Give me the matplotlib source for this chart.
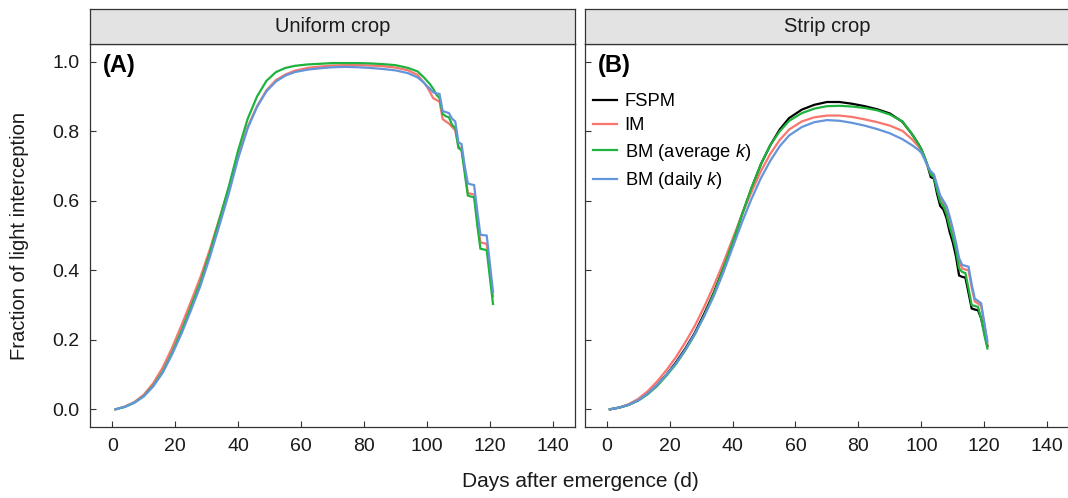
import matplotlib
matplotlib.use('Agg')
import matplotlib.pyplot as plt
from matplotlib.lines import Line2D

# ---------------- data ----------------
days = [1, 4, 7, 10, 13, 16, 19, 22, 25, 28, 31, 34, 37, 40, 43, 46, 49, 52, 55, 58,
        62, 66, 70, 74, 78, 82, 86, 90, 94, 97, 99,
        100, 101, 102, 103, 104, 105, 106, 107, 108, 109, 110,
        111, 112, 113, 114, 115, 116, 117, 118, 119, 120, 121]

panels = ["Uniform crop", "Strip crop"]
panel_tags = ["(A)", "(B)"]
series_names = ["FSPM", "IM", "BM (average $\\it{k}$)", "BM (daily $\\it{k}$)"]

# Uniform crop (no FSPM line drawn)
uniform_im = [0.0, 0.008, 0.021, 0.042, 0.075, 0.12, 0.177, 0.242, 0.31, 0.38, 0.46, 0.548, 0.635,
              0.73, 0.812, 0.872, 0.918, 0.947, 0.963, 0.974, 0.982, 0.986, 0.989, 0.99, 0.99, 0.989,
              0.987, 0.983, 0.975, 0.962, 0.94,
              0.928, 0.912, 0.895, 0.890, 0.885, 0.835, 0.828, 0.822, 0.812, 0.803, 0.757,
              0.748, 0.690, 0.622, 0.620, 0.618, 0.545, 0.480, 0.478, 0.476, 0.400, 0.325]
uniform_bm_avg = [0.0, 0.007, 0.019, 0.038, 0.068, 0.108, 0.163, 0.226, 0.295, 0.365, 0.45, 0.545, 0.64,
                  0.745, 0.835, 0.90, 0.945, 0.97, 0.982, 0.988, 0.992, 0.994, 0.996, 0.996, 0.996, 0.995,
                  0.993, 0.99, 0.982, 0.972, 0.955,
                  0.945, 0.935, 0.922, 0.905, 0.895, 0.850, 0.843, 0.840, 0.818, 0.810, 0.752,
                  0.745, 0.680, 0.615, 0.612, 0.610, 0.530, 0.462, 0.460, 0.458, 0.380, 0.303]
uniform_bm_daily = [0.0, 0.007, 0.019, 0.037, 0.066, 0.105, 0.158, 0.218, 0.285, 0.355, 0.438, 0.528, 0.62,
                    0.722, 0.808, 0.87, 0.915, 0.943, 0.96, 0.97, 0.977, 0.981, 0.984, 0.985, 0.984, 0.982,
                    0.979, 0.975, 0.967, 0.955, 0.94,
                    0.930, 0.922, 0.912, 0.909, 0.907, 0.858, 0.855, 0.852, 0.836, 0.828, 0.768,
                    0.763, 0.700, 0.650, 0.647, 0.645, 0.570, 0.502, 0.501, 0.500, 0.420, 0.338]

# Strip crop
strip_fspm = [0.0, 0.005, 0.013, 0.026, 0.045, 0.07, 0.10, 0.135, 0.175, 0.22, 0.275, 0.335, 0.405,
              0.48, 0.56, 0.635, 0.705, 0.76, 0.805, 0.838, 0.862, 0.876, 0.884, 0.884, 0.879, 0.872,
              0.863, 0.851, 0.827, 0.792, 0.764,
              0.748, 0.725, 0.700, 0.668, 0.664, 0.620, 0.585, 0.575, 0.550, 0.510, 0.480,
              0.440, 0.385, 0.381, 0.379, 0.335, 0.290, 0.287, 0.285, 0.262, 0.222, 0.182]
strip_im = [0.0, 0.005, 0.015, 0.03, 0.052, 0.08, 0.113, 0.15, 0.193, 0.24, 0.295, 0.355, 0.42,
            0.49, 0.56, 0.625, 0.685, 0.735, 0.775, 0.805, 0.828, 0.84, 0.845, 0.845, 0.841, 0.834,
            0.826, 0.816, 0.801, 0.777, 0.757,
            0.745, 0.722, 0.700, 0.680, 0.672, 0.640, 0.607, 0.595, 0.575, 0.545, 0.510,
            0.475, 0.425, 0.405, 0.402, 0.400, 0.350, 0.310, 0.305, 0.298, 0.245, 0.188]
strip_bm_avg = [0.0, 0.005, 0.013, 0.025, 0.043, 0.067, 0.097, 0.13, 0.17, 0.215, 0.27, 0.332, 0.403,
                0.48, 0.56, 0.637, 0.705, 0.76, 0.8, 0.83, 0.852, 0.865, 0.872, 0.873, 0.871, 0.867,
                0.86, 0.848, 0.828, 0.792, 0.764,
                0.748, 0.727, 0.702, 0.675, 0.668, 0.630, 0.597, 0.585, 0.562, 0.525, 0.495,
                0.458, 0.405, 0.395, 0.392, 0.348, 0.300, 0.297, 0.295, 0.262, 0.215, 0.175]
strip_bm_daily = [0.0, 0.005, 0.013, 0.026, 0.045, 0.07, 0.1, 0.132, 0.172, 0.217, 0.268, 0.325, 0.392,
                  0.465, 0.538, 0.605, 0.665, 0.715, 0.757, 0.788, 0.812, 0.826, 0.832, 0.83, 0.824, 0.816,
                  0.806, 0.794, 0.777, 0.760, 0.747,
                  0.738, 0.720, 0.700, 0.685, 0.676, 0.645, 0.615, 0.600, 0.585, 0.555, 0.520,
                  0.480, 0.435, 0.415, 0.413, 0.410, 0.360, 0.318, 0.312, 0.305, 0.250, 0.196]

x_ticks = [0, 20, 40, 60, 80, 100, 120, 140]
y_ticks = [0.0, 0.2, 0.4, 0.6, 0.8, 1.0]
y_ticklabels = ["0.0", "0.2", "0.4", "0.6", "0.8", "1.0"]

colors = {"FSPM": "#000000", "IM": "#F8766D", "BM_avg": "#1DB33C", "BM_daily": "#6495DB"}

# ---------------- style ----------------
plt.rcParams['font.family'] = ['Liberation Sans', 'DejaVu Sans']
plt.rcParams['mathtext.fontset'] = 'custom'
plt.rcParams['mathtext.rm'] = 'Liberation Sans'
plt.rcParams['mathtext.it'] = 'Liberation Sans:italic'

W, H = 1068, 498
fig = plt.figure(figsize=(W / 100, H / 100), dpi=100)


def rect(l, r, t, b):
    return [l / W, 1 - b / H, (r - l) / W, (b - t) / H]


panel_x = [(90.3, 574.8), (584.7, 1069.2)]
ptop, pbot = 44.3, 426.7
stop = 9.3
border = "#333333"
lw = 1.6
txt = '#1a1a1a'

panel_data = [
    [(None, None), (uniform_im, colors["IM"]), (uniform_bm_avg, colors["BM_avg"]),
     (uniform_bm_daily, colors["BM_daily"])],
    [(strip_fspm, colors["FSPM"]), (strip_im, colors["IM"]), (strip_bm_avg, colors["BM_avg"]),
     (strip_bm_daily, colors["BM_daily"])],
]

axes = []
for i, (l, r) in enumerate(panel_x):
    ax = fig.add_axes(rect(l, r, ptop, pbot))
    for vals, col in panel_data[i]:
        if vals is None:
            continue
        ax.plot(days, vals, color=col, lw=lw, solid_joinstyle='miter')
    ax.set_xlim(-7, 147)
    ax.set_ylim(-0.05, 1.05)
    ax.set_xticks(x_ticks)
    ax.set_xticklabels([str(t) for t in x_ticks])
    ax.set_yticks(y_ticks)
    if i == 0:
        ax.set_yticklabels(y_ticklabels)
    else:
        ax.set_yticklabels([])
    ax.tick_params(direction='in', length=4, width=0.8, color=border, labelsize=14,
                   labelcolor=txt, pad=8)
    for s in ax.spines.values():
        s.set_color(border)
        s.set_linewidth(0.9)
    ax.text(13.0 / (r - l), (pbot - 66) / (pbot - ptop), panel_tags[i], transform=ax.transAxes,
            ha='left', va='center', fontsize=17, fontweight='bold', color='#000000')
    # strip
    sax = fig.add_axes(rect(l, r, stop, ptop))
    sax.set_facecolor('#E3E3E3')
    sax.set_xticks([])
    sax.set_yticks([])
    for s in sax.spines.values():
        s.set_color(border)
        s.set_linewidth(0.9)
    sax.text(0.5, 0.5, panels[i], transform=sax.transAxes, ha='center', va='center',
             fontsize=14.5, color=txt)
    axes.append(ax)

# legend in panel B
handles = [Line2D([], [], color=c, lw=lw) for c in
           [colors["FSPM"], colors["IM"], colors["BM_avg"], colors["BM_daily"]]]
axB = axes[1]
l, r = panel_x[1]
axB.legend(handles, series_names, loc='upper left',
           bbox_to_anchor=((593 - l) / (r - l), (pbot - 93) / (pbot - ptop)),
           frameon=False, fontsize=13.2, handlelength=1.3, handletextpad=0.42,
           labelspacing=0.4, borderpad=0, borderaxespad=0)

fig.text(20 / W, 1 - 235.5 / H, "Fraction of light interception", rotation=90,
         ha='center', va='center', fontsize=14.5, color=txt)
fig.text(580 / W, 1 - 481.7 / H, "Days after emergence (d)", ha='center', va='center',
         fontsize=15, color=txt)

fig.savefig("out.png", dpi=100)
